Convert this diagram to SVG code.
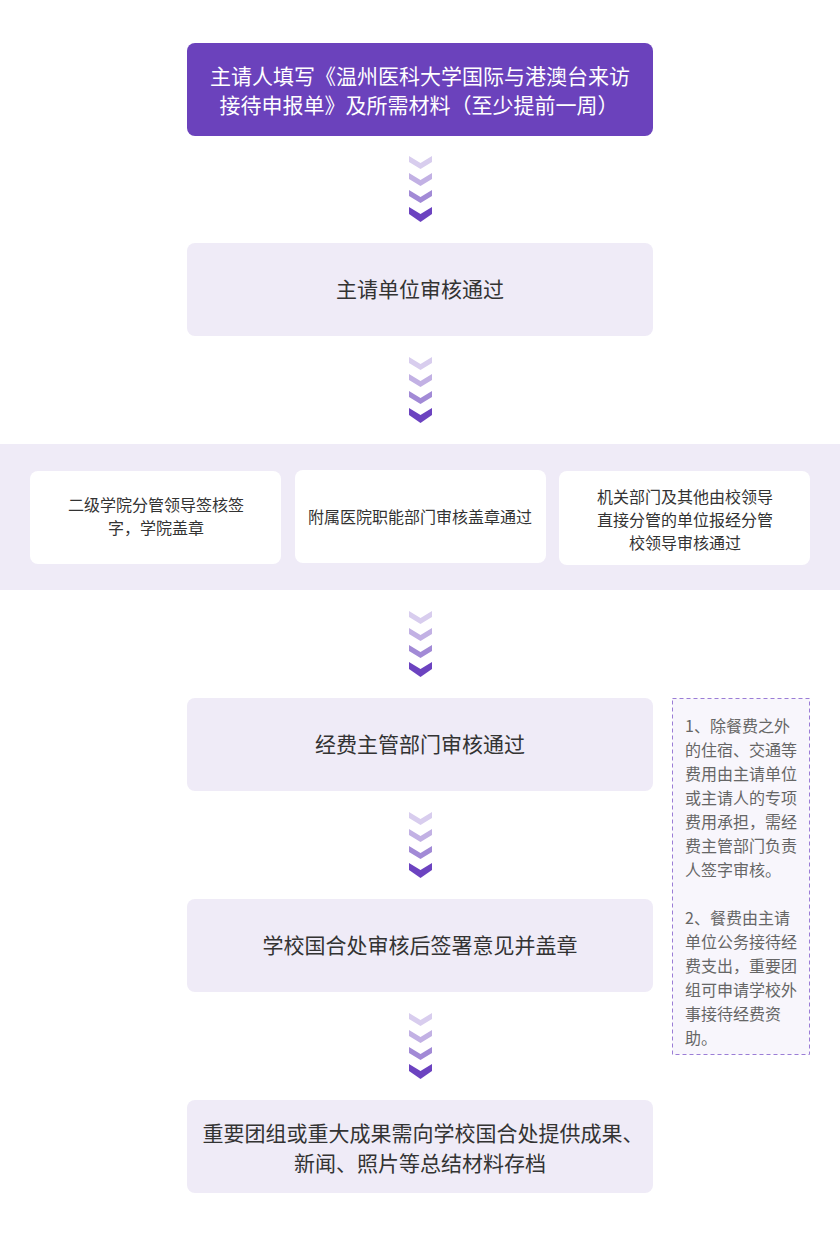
<svg xmlns="http://www.w3.org/2000/svg" width="840" height="1250" viewBox="0 0 840 1250">
<defs>
<style>
text{font-family:"Noto Sans CJK SC","Noto Sans",sans-serif;text-anchor:middle}
.main{fill:#efebf7}
.mt{font-size:21px;fill:#333}
.wt{font-size:21px;fill:#fff}
.st{font-size:16px;fill:#333}
.nt{font-size:16px;fill:#666;text-anchor:start}
.c1{fill:#d8cdee}.c2{fill:#c2b1e4}.c3{fill:#a28ad6}.c4{fill:#6c43c0}
</style>
<g id="chev">
<polygon class="c1" points="409,156 420.5,163 432,156 432,162 420.5,169 409,162"/>
<polygon class="c2" points="409,173 420.5,180 432,173 432,179 420.5,186 409,179"/>
<polygon class="c3" points="409,190 420.5,197 432,190 432,196 420.5,203 409,196"/>
<polygon class="c4" points="409,207 420.5,214 432,207 432,214 420.5,222 409,214"/>
</g>
</defs>
<rect width="840" height="1250" fill="#fff"/>
<g id="connectors">
<use href="#chev"/>
<use href="#chev" y="201"/>
<use href="#chev" y="455"/>
<use href="#chev" y="656"/>
<use href="#chev" y="857"/>
</g>
<g id="n1">
<rect x="187" y="43" width="466" height="93" rx="8" fill="#6b42bc"/>
<text class="wt" x="420" y="84">主请人填写《温州医科大学国际与港澳台来访</text>
<text class="wt" x="419" y="113">接待申报单》及所需材料（至少提前一周）</text>
</g>
<g id="n2">
<rect class="main" x="187" y="243" width="466" height="93" rx="8"/>
<text class="mt" x="420" y="297">主请单位审核通过</text>
</g>
<g id="band">
<rect x="0" y="444" width="840" height="146" fill="#efebf7"/>
</g>
<g id="n3a">
<rect x="30" y="471" width="251" height="93" rx="8" fill="#fff"/>
<text class="st" x="156" y="511">二级学院分管领导签核签</text>
<text class="st" x="156" y="534">字，学院盖章</text>
</g>
<g id="n3b">
<rect x="295" y="470" width="251" height="93" rx="8" fill="#fff"/>
<text class="st" x="420" y="523">附属医院职能部门审核盖章通过</text>
</g>
<g id="n3c">
<rect x="559" y="471" width="251" height="94" rx="8" fill="#fff"/>
<text class="st" x="685" y="503">机关部门及其他由校领导</text>
<text class="st" x="685" y="526">直接分管的单位报经分管</text>
<text class="st" x="685" y="549">校领导审核通过</text>
</g>
<g id="n4">
<rect class="main" x="187" y="698" width="466" height="93" rx="8"/>
<text class="mt" x="420" y="752">经费主管部门审核通过</text>
</g>
<g id="note">
<rect x="672.5" y="698.5" width="137" height="356" fill="#f8f6fc" stroke="#9b7dd6" stroke-width="1" stroke-dasharray="4,3"/>
<text class="nt" x="685" y="732">1、除餐费之外</text>
<text class="nt" x="685" y="756">的住宿、交通等</text>
<text class="nt" x="685" y="780">费用由主请单位</text>
<text class="nt" x="685" y="804">或主请人的专项</text>
<text class="nt" x="685" y="828">费用承担，需经</text>
<text class="nt" x="685" y="852">费主管部门负责</text>
<text class="nt" x="685" y="876">人签字审核。</text>
<text class="nt" x="685" y="924">2、餐费由主请</text>
<text class="nt" x="685" y="948">单位公务接待经</text>
<text class="nt" x="685" y="972">费支出，重要团</text>
<text class="nt" x="685" y="996">组可申请学校外</text>
<text class="nt" x="685" y="1020">事接待经费资</text>
<text class="nt" x="685" y="1044">助。</text>
</g>
<g id="n5">
<rect class="main" x="187" y="899" width="466" height="93" rx="8"/>
<text class="mt" x="420" y="953">学校国合处审核后签署意见并盖章</text>
</g>
<g id="n6">
<rect class="main" x="187" y="1100" width="466" height="93" rx="8"/>
<text class="mt" x="423" y="1141">重要团组或重大成果需向学校国合处提供成果、</text>
<text class="mt" x="420" y="1171">新闻、照片等总结材料存档</text>
</g>
</svg>
